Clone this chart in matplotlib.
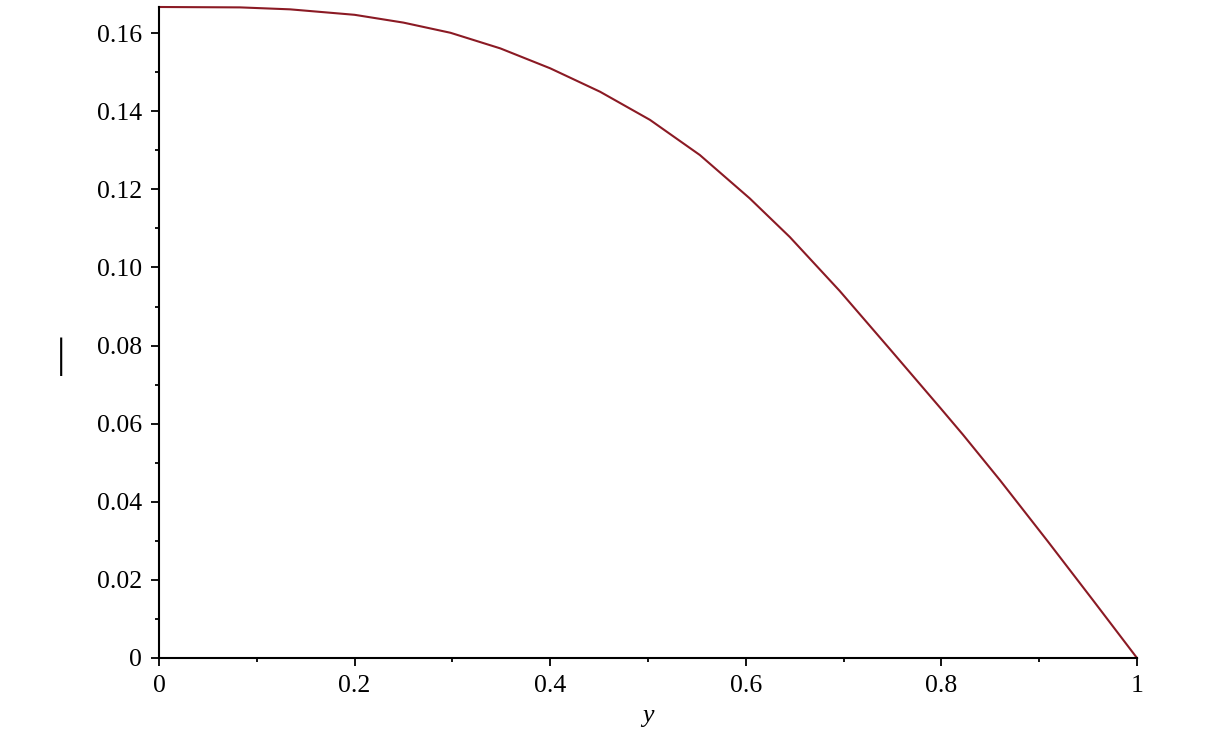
import numpy as np
import matplotlib.pyplot as plt
from matplotlib.ticker import MultipleLocator, FixedFormatter, FixedLocator

# points
y_vals = [0.0, 0.083, 0.134, 0.2, 0.25, 0.298, 0.349, 0.4, 0.451, 0.502,
          0.553, 0.604, 0.645, 0.696, 0.747, 0.799, 0.822, 0.86, 0.909,
          0.955, 1.0]
f_vals = [0.1667, 0.1666, 0.1661, 0.1647, 0.1627, 0.1601, 0.1561, 0.1510,
          0.1450, 0.1378, 0.1288, 0.1177, 0.1078, 0.0940, 0.0792, 0.0640,
          0.0572, 0.0455, 0.0298, 0.0148, 0.0]

xticks = [0, 0.2, 0.4, 0.6, 0.8, 1]
xtick_labels = ['0', '0.2', '0.4', '0.6', '0.8', '1']
yticks = [0, 0.02, 0.04, 0.06, 0.08, 0.10, 0.12, 0.14, 0.16]
ytick_labels = ['0', '0.02', '0.04', '0.06', '0.08', '0.10', '0.12', '0.14', '0.16']

plt.rcParams['font.family'] = ['Liberation Serif', 'DejaVu Serif']

fig = plt.figure(figsize=(12.22, 7.38), dpi=100)
ax = fig.add_axes([159/1222, 80/738, 978/1222, 651/738])

ax.plot(y_vals, f_vals, color='#8b1a24', lw=1.5, solid_joinstyle='round', clip_on=False)

ax.set_xlim(0, 1)
ax.set_ylim(0, 0.1667)

ax.spines['top'].set_visible(False)
ax.spines['right'].set_visible(False)
ax.spines['left'].set_linewidth(1.5)
ax.spines['bottom'].set_linewidth(1.5)

ax.xaxis.set_major_locator(FixedLocator(xticks))
ax.xaxis.set_major_formatter(FixedFormatter(xtick_labels))
ax.xaxis.set_minor_locator(MultipleLocator(0.1))
ax.yaxis.set_major_locator(FixedLocator(yticks))
ax.yaxis.set_major_formatter(FixedFormatter(ytick_labels))
ax.yaxis.set_minor_locator(MultipleLocator(0.01))

ax.tick_params(which='major', direction='out', length=6, width=1.3, labelsize=18.5, pad=6)
ax.tick_params(which='minor', direction='out', length=3, width=1.3)

ax.set_xlabel('y', fontsize=18.5, style='italic', labelpad=6)
fig.text(61/1222, 1 - 357/738, '|', fontsize=30, ha='center', va='center')

fig.savefig('out.png', dpi=100)
